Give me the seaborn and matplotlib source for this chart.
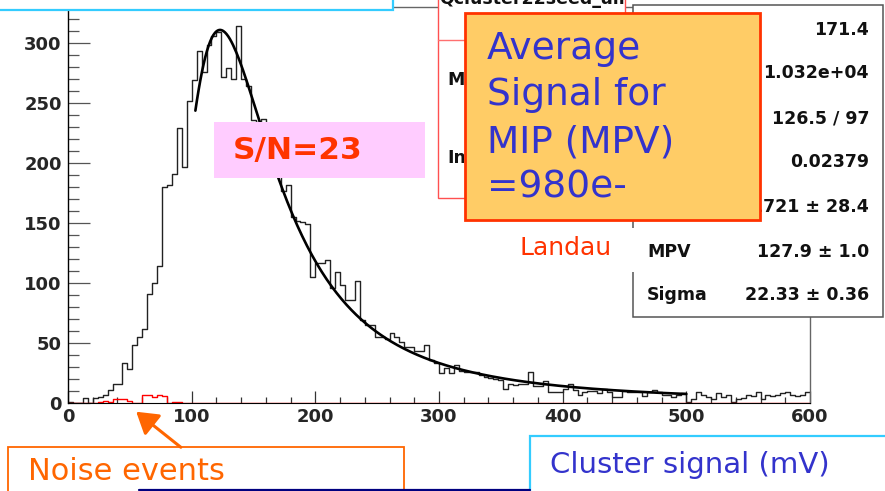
import numpy as np
import pandas as pd
import matplotlib
matplotlib.use("Agg")
import matplotlib.pyplot as plt
import seaborn as sns
from matplotlib.patches import Rectangle, FancyArrowPatch

# ---- cluster signal spectrum, 4 mV bins, 0-600 mV ----
bin_width = 4
signal_0_100 = [1, 0, 0, 4, 0, 4, 5, 7, 11, 16, 16, 33, 28, 48, 55, 62, 91, 100, 114, 180,
                182, 191, 229, 197, 252]
signal_100_200 = [269, 293, 276, 298, 306, 309, 272, 279, 270, 314, 270, 264, 236, 234, 237,
                  214, 199, 189, 177, 182, 155, 152, 151, 149, 105]
signal_200_300 = [117, 117, 119, 96, 109, 98, 86, 86, 102, 69, 65, 65, 55, 55, 53, 58, 55, 51,
                  47, 47, 43, 43, 48, 36, 33]
signal_300_400 = [25, 29, 25, 32, 27, 26, 26, 26, 23, 22, 21, 20, 19, 12, 16, 15, 16, 16, 26,
                  14, 14, 18, 9, 9, 9]
signal_400_500 = [12, 16, 11, 7, 9, 10, 10, 8, 12, 9, 5, 5, 10, 9, 9, 9, 6, 9, 11, 9, 7, 7, 5,
                  7, 8]
signal_500_600 = [1, 3, 9, 7, 5, 3, 8, 5, 7, 1, 3, 4, 7, 6, 9, 3, 7, 6, 7, 8, 9, 7, 6, 7, 9]

# noise-only events (non-zero only below 100 mV)
noise_0_100 = [0, 0, 0, 0, 0, 0, 1, 2, 1, 3, 3, 3, 2, 0, 0, 7, 7, 5, 7, 6, 0, 1, 1, 0, 0]

# Landau fit parameters
fit_constant = 1721
fit_mpv = 127.9
fit_sigma = 22.33
fit_range = (103, 500)

stats_values = ["171.4", "1.032e+04", "126.5 / 97", "0.02379",
                f"{fit_constant} \u00b1 28.4", f"{fit_mpv:.1f} \u00b1 1.0", f"{fit_sigma:.2f} \u00b1 0.36"]
stats_labels = {"MPV": 252, "Sigma": 295}

# ---------------------------------------------------------------
signal = np.array(signal_0_100 + signal_100_200 + signal_200_300 + signal_300_400
                  + signal_400_500 + signal_500_600, dtype=float)
noise = np.zeros_like(signal)
noise[:len(noise_0_100)] = noise_0_100
centers = bin_width * (np.arange(len(signal)) + 0.5)
hist_df = pd.DataFrame({"signal_mV": centers, "signal": signal, "noise": noise})


def landau(lam):
    """Landau density phi(lambda) by direct integration (CERNLIB DENLAN convention)."""
    t = np.linspace(1e-9, 30, 15001)
    lam = np.atleast_1d(lam)[:, None]
    integrand = np.exp(-t * np.log(t) - lam * t) * np.sin(np.pi * t)
    return np.trapezoid(integrand, t, axis=1) / np.pi


fit_x = np.linspace(fit_range[0], fit_range[1], 300)
fit_y = fit_constant * landau((fit_x - fit_mpv) / fit_sigma)

sns.set_style("ticks")
plt.rcParams["font.family"] = ["DejaVu Sans"]

W, H = 885, 491
fig = plt.figure(figsize=(W / 100, H / 100), dpi=100)
fig.patch.set_facecolor("white")

ax = fig.add_axes([68 / W, 1 - 403 / H, (810 - 68) / W, (403 - 7) / H])

sns.histplot(data=hist_df, x="signal_mV", weights="signal", binwidth=bin_width,
             binrange=(0, 600), element="step", fill=False,
             color="#222222", linewidth=1.0, ax=ax)
sns.lineplot(x=fit_x, y=fit_y, color="black", linewidth=1.9, estimator=None, ax=ax)
sns.histplot(data=hist_df, x="signal_mV", weights="noise", binwidth=bin_width,
             binrange=(0, 600), element="step", fill=False,
             color="#ff0000", linewidth=1.0, ax=ax)

ax.set_xlim(0, 600)
ax.set_ylim(0, 330)
ax.set_xlabel("")
ax.set_ylabel("")
ax.set_xticks(np.arange(0, 601, 100))
ax.set_xticks(np.arange(0, 601, 20), minor=True)
ax.set_yticks(np.arange(0, 301, 50))
ax.set_yticks(np.arange(0, 331, 10), minor=True)
ax.tick_params(axis="x", which="major", direction="in", length=8.6, width=0.9,
               color="#333333", pad=3.5, labelsize=13)
ax.tick_params(axis="x", which="minor", direction="in", length=4.6, width=0.9, color="#333333")
ax.tick_params(axis="y", which="major", direction="in", length=15.8, width=0.9,
               color="#555555", pad=4.5, labelsize=13)
ax.tick_params(axis="y", which="minor", direction="in", length=7.9, width=0.9, color="#555555")
for lbl in ax.get_xticklabels() + ax.get_yticklabels():
    lbl.set_fontweight("bold")
for side in ["top", "right"]:
    ax.spines[side].set_color("#666666")
    ax.spines[side].set_linewidth(1.0)
ax.spines["left"].set_color("black")
ax.spines["left"].set_linewidth(1.0)
ax.spines["bottom"].set_color("black")

# ---- overlay layer in pixel coordinates ----
ov = fig.add_axes([0, 0, 1, 1], zorder=10)
ov.set_xlim(0, W)
ov.set_ylim(H, 0)
ov.axis("off")


def box(x, y, w, h, fc, ec, lw, z):
    ov.add_patch(Rectangle((x, y), w, h, facecolor=fc, edgecolor=ec, linewidth=lw,
                           zorder=z, clip_on=False))


# title strip at top left
box(-10, -20, 403, 29.5, "white", "#33ccff", 1.6, 1)

# histogram stats box (mostly covered by the MIP note)
box(438, -10, 187, 208, "white", "#ff5050", 1.0, 2)
ov.plot([438, 625], [40, 40], color="#ff7070", linewidth=1.0, zorder=2.5)
ov.text(532, 4, "Qcluster22seed_all", ha="center", va="baseline", fontsize=12.5,
        fontweight="bold", color="#111111", zorder=3)
visible_strip = Rectangle((438, 40), 26, 158, transform=ov.transData)
for name, yy in [("Mean", 80), ("Integral", 158)]:
    t = ov.text(447, yy, name, ha="left", va="center", fontsize=12.5, fontweight="bold",
                color="#111111", zorder=3, clip_on=True)
    t.set_clip_path(visible_strip)

# fit stats box
box(633, 5, 250, 312, "white", "#555555", 1.1, 2)
row_y = [30, 73, 118, 162, 207, 252, 295]
for val, yy in zip(stats_values, row_y):
    ov.text(869, yy, val, ha="right", va="center", fontsize=12.5, fontweight="bold",
            color="#111111", zorder=3)
for lab, yy in stats_labels.items():
    ov.text(647, yy, lab, ha="left", va="center", fontsize=12.5, fontweight="bold",
            color="#111111", zorder=3)

# "Landau" label
box(505, 228, 135, 44, "white", "none", 0, 4)
ov.text(520, 255, "Landau", ha="left", va="baseline", fontsize=18, color="#ff3300", zorder=4.5)

# MIP note
box(465, 13, 295, 207, "#ffcc66", "#ff3300", 2.0, 5)
for line, yb in zip(["Average", "Signal for", "MIP (MPV)", "=980e-"], [59, 105, 152, 197]):
    ov.text(487, yb, line, ha="left", va="baseline", fontsize=27, color="#3333cc", zorder=6)

# S/N note
box(214, 122, 211, 56, "#ffccff", "none", 0, 5)
ov.text(233, 150, "S/N=23", ha="left", va="center", fontsize=22.5, fontweight="bold",
        color="#ff3300", zorder=6)

# noise events note
box(8, 447, 396, 80, "white", "#ff6600", 1.3, 5)
ov.text(28, 480, "Noise events", ha="left", va="baseline", fontsize=22, color="#ff6600", zorder=6)
ov.add_patch(FancyArrowPatch((183, 449), (134, 410), arrowstyle="-|>,head_length=8,head_width=5",
                             color="#ff6600", linewidth=2.2, mutation_scale=1.6, zorder=6,
                             clip_on=False))
ov.plot([139, 530], [490, 490], color="#000080", linewidth=1.6, zorder=7, clip_on=False)

# axis title
box(530, 436, 400, 100, "white", "#33ccff", 1.6, 5)
ov.text(550, 473, "Cluster signal (mV)", ha="left", va="baseline", fontsize=21,
        color="#3333cc", zorder=6)

fig.savefig("out.png", dpi=100, facecolor="white")
